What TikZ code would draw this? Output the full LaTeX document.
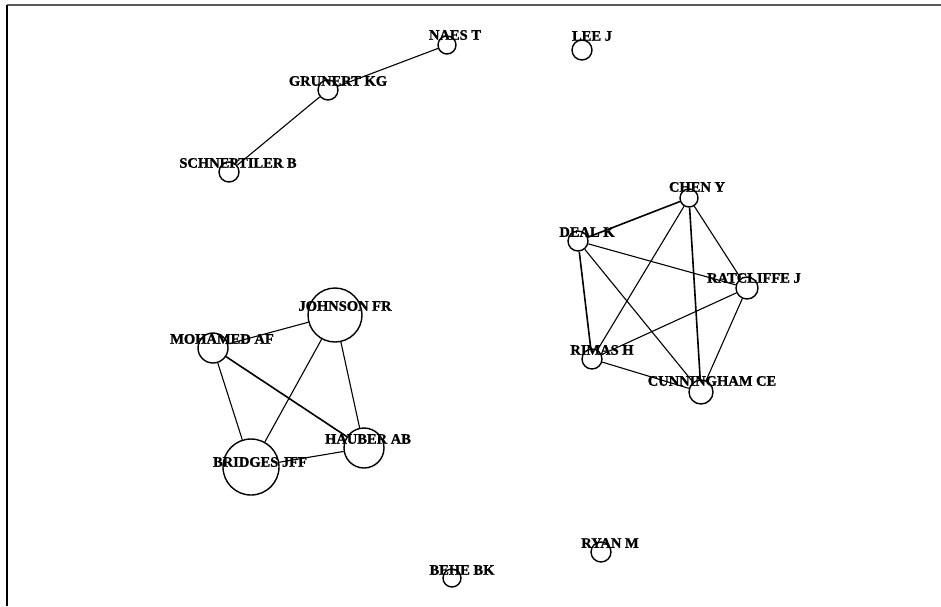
\documentclass[tikz,border=0pt]{standalone}
\usepackage{fontspec}
\setmainfont{Liberation Serif}
\newfontfamily\lblfont{Liberation Serif}[BoldFeatures={FakeBold=1.2}]
\begin{document}
\begin{tikzpicture}[x=1pt,y=-1pt,
  vert/.style={circle,draw=black,line width=1.4pt,inner sep=0pt,fill=none},
  lbl/.style={font=\lblfont\fontsize{14.5}{15}\selectfont\bfseries,inner sep=0pt,text=black},
  edge/.style={line width=1.1pt},
  thick edge/.style={line width=1.6pt}]
\useasboundingbox (0,0) rectangle (941,606);
\fill[white] (0,0) rectangle (941,606);
\draw[line width=2pt,color=black!65] (7,5) -- (941,5);
\draw[line width=1.3pt] (7,5) -- (7,606);
% vertices
\node[vert,minimum size=18pt] (naes) at (447,45) {};
\node[vert,minimum size=20pt] (grunert) at (328,90) {};
\node[vert,minimum size=20pt] (schn) at (229,172) {};
\node[vert,minimum size=20pt] (lee) at (582,50) {};
\node[vert,minimum size=18pt] (chen) at (689,198) {};
\node[vert,minimum size=20pt] (deal) at (578,241) {};
\node[vert,minimum size=22pt] (ratc) at (747,288) {};
\node[vert,minimum size=20pt] (rimas) at (592,359) {};
\node[vert,minimum size=24pt] (cunn) at (701,392) {};
\node[vert,minimum size=54pt] (johnson) at (335,315) {};
\node[vert,minimum size=30pt] (mohamed) at (213,348) {};
\node[vert,minimum size=40pt] (hauber) at (364,448) {};
\node[vert,minimum size=56pt] (bridges) at (251,467) {};
\node[vert,minimum size=20pt] (ryan) at (601,552) {};
\node[vert,minimum size=18pt] (behe) at (452,578) {};
% edges
\draw[edge] (naes) -- (grunert);
\draw[edge] (grunert) -- (schn);
\draw[thick edge] (chen) -- (deal);
\draw[edge] (chen) -- (rimas);
\draw[thick edge] (chen) -- (cunn);
\draw[edge] (chen) -- (ratc);
\draw[edge] (deal) -- (ratc);
\draw[thick edge] (deal) -- (rimas);
\draw[edge] (deal) -- (cunn);
\draw[edge] (ratc) -- (rimas);
\draw[edge] (ratc) -- (cunn);
\draw[edge] (rimas) -- (cunn);
\draw[edge] (johnson) -- (mohamed);
\draw[edge] (johnson) -- (bridges);
\draw[edge] (johnson) -- (hauber);
\draw[edge] (mohamed) -- (bridges);
\draw[thick edge] (mohamed) -- (hauber);
\draw[edge] (bridges) -- (hauber);
% labels
\node[lbl] (lnaes) at (455,35) {NAES T};
\node[lbl] (lgrunert) at (338,81) {GRUNERT KG};
\node[lbl] (lschn) at (238,163) {SCHNEPTILER B};
\node[lbl] (llee) at (592,36) {LEE J};
\node[lbl] (lchen) at (697,187) {CHEN Y};
\node[lbl] (ldeal) at (587,232) {DEAL K};
\node[lbl] (lratc) at (754,278) {RATCLIFFE J};
\node[lbl] (lrimas) at (602,350) {RIMAS H};
\node[lbl] (lcunn) at (712,381) {CUNNINGHAM CE};
\node[lbl] (ljohnson) at (345,306) {JOHNSON FR};
\node[lbl] (lmohamed) at (222,339) {MOHAMED AF};
\node[lbl] (lhauber) at (368,439) {HAUBER AB};
\node[lbl] (lbridges) at (260,462) {BRIDGES JFF};
\node[lbl] (lryan) at (610,543) {RYAN M};
\node[lbl] (lbehe) at (462,570) {BEHE BK};
\end{tikzpicture}
\end{document}
